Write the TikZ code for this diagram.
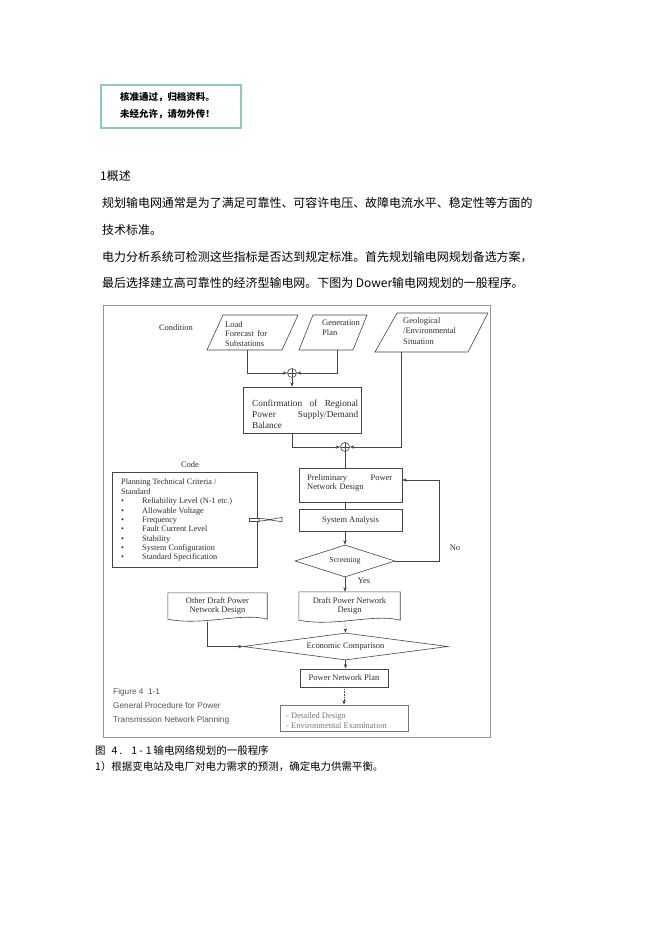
\documentclass[tikz,border=0pt]{standalone}
\usepackage{fontspec}
\setmainfont{Liberation Serif}
\newfontfamily\cjk{Noto Sans CJK SC}
\newfontfamily\capsans{Liberation Sans}
\usetikzlibrary{shapes.geometric,arrows.meta}
\definecolor{lncol}{RGB}{70,70,70}
\definecolor{txtcol}{RGB}{45,45,45}
\definecolor{frcol}{RGB}{150,150,150}
\definecolor{grn}{RGB}{140,205,170}
\definecolor{capcol}{RGB}{85,85,85}
\definecolor{detcol}{RGB}{120,120,120}
\newcommand\mybul{\makebox[21bp][l]{\textbullet}}
\begin{document}
\begin{tikzpicture}[x=1bp,y=-1bp,
  ln/.style={draw=lncol, line width=0.6bp},
  arr/.style={ln, -{Stealth[length=4.5bp,width=3.4bp]}},
  dg/.style={font=\fontsize{8.5}{9.5}\selectfont, text=txtcol, inner sep=0},
  rbox/.style={dg, ln, rectangle, align=center},
  emptybox/.style={ln, rectangle, inner sep=0},
  dbox/.style={dg, ln, diamond, align=center},
  sumc/.style={circle, ln, minimum size=9bp, inner sep=0,
    path picture={\draw[lncol, line width=0.5bp]
      (path picture bounding box.north) -- (path picture bounding box.south)
      (path picture bounding box.west) -- (path picture bounding box.east);}},
  cn/.style={font=\cjk\fontsize{12}{14}\selectfont, anchor=west, inner sep=0},
  cnc/.style={font=\cjk\fontsize{10.5}{12}\selectfont, anchor=west, inner sep=0},
  capt/.style={font=\capsans\fontsize{8.3}{10}\selectfont, text=capcol, anchor=west, inner sep=0},
]
\path[use as bounding box, fill=white] (0,0) rectangle (662,936);

% ---- watermark box
\node[draw=grn, line width=1.3bp, rectangle, minimum width=140bp, minimum height=43bp, inner sep=0] (wm) at (171,106.5) {};
\node[font=\cjk\bfseries\fontsize{9.5}{17}\selectfont, anchor=north west, align=left, inner sep=0] (wmtxt) at (120,92) {核准通过，归档资料。\\未经允许，请勿外传！};

% ---- body text
\node[cn] (h1) at (100,176) {1概述};
\node[cn] (p1) at (102,203) {规划输电网通常是为了满足可靠性、可容许电压、故障电流水平、稳定性等方面的};
\node[cn] (p2) at (102,230) {技术标准。};
\node[cn] (p3) at (102,257) {电力分析系统可检测这些指标是否达到规定标准。首先规划输电网规划备选方案，};
\node[cn] (p4) at (102,283) {最后选择建立高可靠性的经济型输电网。下图为 Dower输电网规划的一般程序。};

% ---- figure frame
\node[draw=frcol, line width=0.7bp, rectangle, minimum width=387bp, minimum height=432bp, inner sep=0] (frame) at (296.5,521) {};

% ---- top row
\node[dg] (cond) at (176,328) {Condition};

\draw[ln] (223,315) -- (298,315) -- (282,350) -- (207,350) -- cycle;
\node[dg, anchor=north west, text width=42bp, align=left] (lf) at (225,321) {Load\\Forecast\hfill for\\Substations};
\coordinate (lfb) at (247,350);

\draw[ln] (313,315) -- (367,315) -- (353,350) -- (299,350) -- cycle;
\node[dg, anchor=north west, align=left] (gp) at (322,320) {Generation\\Plan};
\coordinate (gpb) at (337,350);

\draw[ln] (397,313) -- (488,313) -- (468,352) -- (375,352) -- cycle;
\node[dg, anchor=north west, align=left, font=\fontsize{8.5}{10.8}\selectfont] (geo) at (403,317) {Geological\\/Environmental\\Situation};
\coordinate (geob) at (401,352);

% ---- junctions and confirmation
\node[sumc] (c1) at (292,373) {};
\node[emptybox, minimum width=118bp, minimum height=46bp] (conf) at (302,410) {};
\node[dg, anchor=north west, text width=106bp, align=left, font=\fontsize{9.3}{11}\selectfont] (conftxt) at (252,400) {Confirmation\hfill of\hfill Regional\\Power\hfill Supply/Demand\\Balance};
\node[sumc] (c2) at (345,447) {};

\draw[arr] (lfb) |- (c1);
\draw[arr] (gpb) |- (c1);
\draw[arr] (c1) -- (c1 |- conf.north);
\draw[arr] (c1 |- conf.south) |- (c2);
\draw[arr] (geob) |- (c2);

% ---- main column
\node[emptybox, minimum width=103bp, minimum height=34bp] (prelim) at (350.5,485) {};
\node[dg, anchor=north west, text width=85bp, align=left] (prelimtxt) at (307,474) {Preliminary\hfill Power\\Network Design};
\node[rbox, minimum width=103bp, minimum height=22bp] (sa) at (350.5,520) {System Analysis};
\node[dbox, minimum width=100bp, minimum height=32bp, aspect=3.1, font=\fontsize{7.8}{9}\selectfont] (scr) at (345,561) {Screening};
\node[dg] (no) at (455,548) {No};
\node[dg] (yes) at (364,580.5) {Yes};
\coordinate (fb) at (439,561);

\draw[ln] (c2) -- (c2 |- prelim.north);
\draw[ln] (c2 |- prelim.south) -- (c2 |- sa.north);
\draw[arr] (c2 |- sa.south) -- (scr.north);
\draw[arr] (scr.east) -- (fb) |- ([yshift=5bp]prelim.east);

% ---- code box
\node[dg] (code) at (190,465) {Code};
\node[emptybox, minimum width=145bp, minimum height=95bp] (codebox) at (184.5,519.5) {};
\node[dg, anchor=north west, align=left, font=\fontsize{8.3}{9.4}\selectfont] (codetxt) at (121,479) {Planning Technical Criteria /\\Standard\\
\mybul Reliability Level (N-1 etc.)\\
\mybul Allowable Voltage\\
\mybul Frequency\\
\mybul Fault Current Level\\
\mybul Stability\\
\mybul System Configuration\\
\mybul Standard Specification};
% link symbol between code box and system analysis
\draw[ln, fill=white] (249,517.8) rectangle (259,521.6);
\draw[ln, fill=white, line join=round] (259,518.3) -- (270,519.5) -- (282,517.4) -- (282,521.8) -- (270,519.9) -- (259,521.1) -- cycle;

% ---- draft designs
\node[dg, minimum width=101bp, minimum height=28bp, align=center] (draft) at (349.5,606) {Draft Power Network\\Design};
\draw[ln] (draft.south west) -- (draft.north west) -- (draft.north east) -- (draft.south east)
  .. controls +(-25,-7) and +(35,7) .. (draft.south west);
\node[dg, minimum width=99bp, minimum height=26bp, align=center] (other) at (217.5,606) {Other Draft Power\\Network Design};
\draw[ln] (other.south west) -- (other.north west) -- (other.north east) -- (other.south east)
  .. controls +(-25,-7) and +(35,7) .. (other.south west);

\draw[arr] (scr.south) -- (scr.south |- draft.north);

% ---- economic comparison and plan
\node[dbox, minimum width=205bp, minimum height=27bp, aspect=7.6] (ec) at (345.5,646.5) {Economic Comparison};
\node[rbox, minimum width=88bp, minimum height=18bp, line width=0.9bp] (plan) at (344,678) {Power Network Plan};
\node[emptybox, draw=detcol, minimum width=128bp, minimum height=26bp] (det) at (344,718) {};
\node[dg, anchor=north west, align=left, text=detcol] (dettxt) at (286,712.5) {- Detailed Design\\- Environmental Examination};

\draw[arr, densely dotted] ([yshift=-1bp]c2 |- draft.south) -- (ec.north);
\draw[arr] ([xshift=-10bp,yshift=-2.5bp]other.south) |- (ec.west);
\draw[arr] (ec.south) -- (ec.south |- plan.north);
\draw[arr, densely dotted] (plan.south) -- (plan.south |- det.north);

% ---- figure caption inside frame
\node[capt] (f1) at (113,692) {Figure 4\ \ 1-1};
\node[capt] (f2) at (113,706) {General Procedure for Power};
\node[capt] (f3) at (113,720) {Transmission Network Planning};

% ---- caption below
\node[cnc] (cap1) at (95,750) {图\hspace{6bp}4\hspace{2bp}.\hspace{9bp}1\hspace{2bp}-\hspace{3bp}1\hspace{2bp}输电网络规划的一般程序};
\node[cnc] (cap2) at (95,767) {1）根据变电站及电厂对电力需求的预测，确定电力供需平衡。};
\end{tikzpicture}
\end{document}
